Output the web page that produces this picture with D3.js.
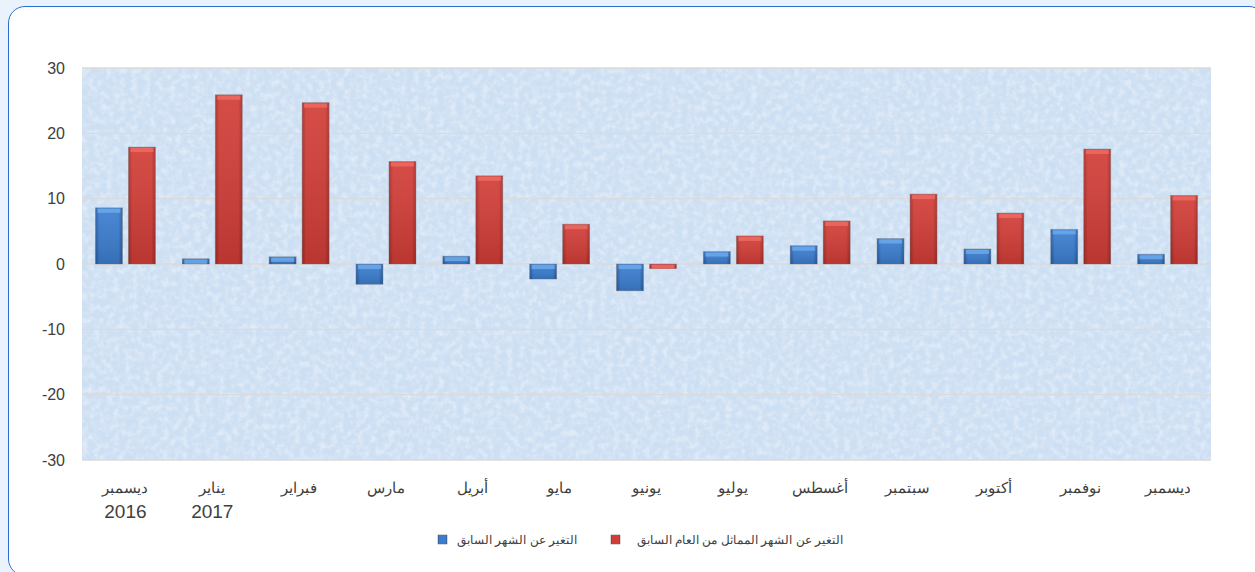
<!DOCTYPE html>
<html>
<head>
<meta charset="utf-8">
<script src="https://cdn.jsdelivr.net/npm/d3@7"></script>
<style>
  body { margin: 0; background: #eaf3fc; }
  #visualization { width: 1255px; height: 572px; position: relative; overflow: hidden; }
  #card {
    position: absolute; left: 8px; top: 6px; width: 1258px; height: 570px;
    background: #fff; border: 1.5px solid #2d6fd0; border-radius: 17px; box-sizing: border-box;
  }
  svg { position: absolute; left: 0; top: 0; }
</style>
</head>
<body>
<div id="visualization"><div id="card"></div></div>
<script>
const months = ["ديسمبر", "يناير", "فبراير", "مارس", "أبريل", "مايو", "يونيو",
  "يوليو", "أغسطس", "سبتمبر", "أكتوبر", "نوفمبر", "ديسمبر"];
const years = ["2016", "2017", "", "", "", "", "", "", "", "", "", "", ""];
const monthly = [8.6, 0.8, 1.1, -3.1, 1.2, -2.3, -4.1, 1.9, 2.8, 3.9, 2.3, 5.3, 1.5];
const yearly = [17.9, 25.9, 24.7, 15.7, 13.5, 6.1, -0.7, 4.3, 6.6, 10.7, 7.8, 17.6, 10.5];
const seriesNames = ["التغير عن الشهر السابق", "التغير عن الشهر المماثل من العام السابق"];
const yTicks = [30, 20, 10, 0, -10, -20, -30];

const W = 1255, H = 572;
const margin = { top: 68, right: 44, bottom: 112, left: 82 },
  width = W - margin.left - margin.right,
  height = H - margin.top - margin.bottom;

const svg = d3.select("#visualization").append("svg")
  .attr("width", W).attr("height", H);

const defs = svg.append("defs");
function barGrad(id, edge, mid) {
  const g = defs.append("linearGradient").attr("id", id)
    .attr("x1", 0).attr("x2", 1).attr("y1", 0).attr("y2", 0);
  g.append("stop").attr("offset", "0%").attr("stop-color", edge);
  g.append("stop").attr("offset", "15%").attr("stop-color", mid);
  g.append("stop").attr("offset", "85%").attr("stop-color", mid);
  g.append("stop").attr("offset", "100%").attr("stop-color", edge);
}
barGrad("gBlue", "#2459a3", "#3b7dcf");
barGrad("gRed", "#a62a26", "#d23d37");
const vg = defs.append("linearGradient").attr("id", "shade")
  .attr("x1", 0).attr("x2", 0).attr("y1", 0).attr("y2", 1);
vg.append("stop").attr("offset", "0%").attr("stop-color", "#fff").attr("stop-opacity", 0.08);
vg.append("stop").attr("offset", "100%").attr("stop-color", "#000").attr("stop-opacity", 0.12);

// paper-like texture for the plot area
const f = defs.append("filter").attr("id", "noise")
  .attr("x", 0).attr("y", 0).attr("width", "100%").attr("height", "100%");
f.append("feTurbulence").attr("type", "fractalNoise").attr("baseFrequency", 0.16)
  .attr("numOctaves", 3).attr("seed", 4).attr("result", "t");
f.append("feColorMatrix").attr("in", "t").attr("type", "matrix")
  .attr("values", "0 0 0 0 1  0 0 0 0 1  0 0 0 0 1  0 0 0 -2.2 1.35")
  .attr("result", "w");
f.append("feComposite").attr("in", "w").attr("in2", "SourceGraphic").attr("operator", "in");

const g = svg.append("g").attr("transform", `translate(${margin.left},${margin.top})`);

const x = d3.scaleBand().domain(d3.range(months.length)).range([0, width]).padding(0);
const y = d3.scaleLinear().domain([-30, 30]).range([height, 0]);

g.append("rect").attr("width", width).attr("height", height).attr("fill", "#cddff3");
g.append("rect").attr("width", width).attr("height", height).attr("fill", "#fff")
  .attr("filter", "url(#noise)").attr("opacity", 0.4);

g.append("g").selectAll("line").data(yTicks).join("line")
  .attr("x1", 0).attr("x2", width)
  .attr("y1", d => y(d)).attr("y2", d => y(d))
  .attr("stroke", "#dadada").attr("stroke-width", 1.3);

const yAxis = g.append("g").call(d3.axisLeft(y).tickValues(yTicks).tickSize(0).tickPadding(17)
  .tickFormat(d => String(d)));
yAxis.select(".domain").remove();
yAxis.selectAll("text").attr("font-family", "Liberation Sans, Arial, sans-serif")
  .attr("font-size", 16).attr("fill", "#404040");

const bw = 27, gap = 6;
const series = [
  { vals: monthly, fill: "url(#gBlue)", cap: "#6aa9ea", off: -gap / 2 - bw },
  { vals: yearly, fill: "url(#gRed)", cap: "#ee6a64", off: gap / 2 }
];

series.forEach(s => {
  const grp = g.append("g");
  const data = s.vals.map((v, i) => ({ v, i }));
  const bx = d => x(d.i) + x.bandwidth() / 2 + s.off;
  grp.selectAll("rect.b").data(data).join("rect").attr("class", "b")
    .attr("x", bx).attr("width", bw)
    .attr("y", d => y(Math.max(0, d.v)))
    .attr("height", d => Math.abs(y(d.v) - y(0)))
    .attr("fill", s.fill).attr("stroke", "#7a7a7a").attr("stroke-opacity", 0.5).attr("stroke-width", 0.8);
  grp.selectAll("rect.s").data(data).join("rect").attr("class", "s")
    .attr("x", bx).attr("width", bw)
    .attr("y", d => y(Math.max(0, d.v)))
    .attr("height", d => Math.abs(y(d.v) - y(0)))
    .attr("fill", "url(#shade)");
  // bevel cap at the outer end
  grp.selectAll("rect.c").data(data).join("rect").attr("class", "c")
    .attr("x", d => bx(d) + 2).attr("width", bw - 4)
    .attr("y", d => d.v >= 0 ? y(d.v) + 1 : y(0) + 1)
    .attr("height", d => Math.min(4, Math.abs(y(d.v) - y(0)) - 1))
    .attr("fill", s.cap).attr("opacity", 0.85);
});

// x labels
const xl = g.append("g").attr("font-family", "Liberation Sans, Arial, sans-serif")
  .attr("fill", "#404040").attr("text-anchor", "middle");
xl.selectAll("text.m").data(months).join("text").attr("class", "m")
  .attr("x", (d, i) => x(i) + x.bandwidth() / 2)
  .attr("y", height + 33).attr("font-size", 15)
  .text(d => d);
xl.selectAll("text.y").data(years).join("text").attr("class", "y")
  .attr("x", (d, i) => x(i) + x.bandwidth() / 2)
  .attr("y", height + 58).attr("font-size", 19)
  .text(d => d);

// legend
const lg = svg.append("g").attr("font-family", "Liberation Sans, Arial, sans-serif")
  .attr("font-size", 12.3).attr("fill", "#404040");
const legendItems = [
  { name: seriesNames[0], fill: "url(#gBlue)", sx: 438, tx: 577 },
  { name: seriesNames[1], fill: "url(#gRed)", sx: 611, tx: 843 }
];
legendItems.forEach(it => {
  lg.append("rect").attr("x", it.sx).attr("y", 535).attr("width", 9).attr("height", 9)
    .attr("fill", it.fill).attr("stroke", "#666").attr("stroke-width", 0.5);
  lg.append("text").attr("x", it.tx).attr("y", 544).attr("text-anchor", "end")
    .text(it.name);
});
</script>
</body>
</html>
